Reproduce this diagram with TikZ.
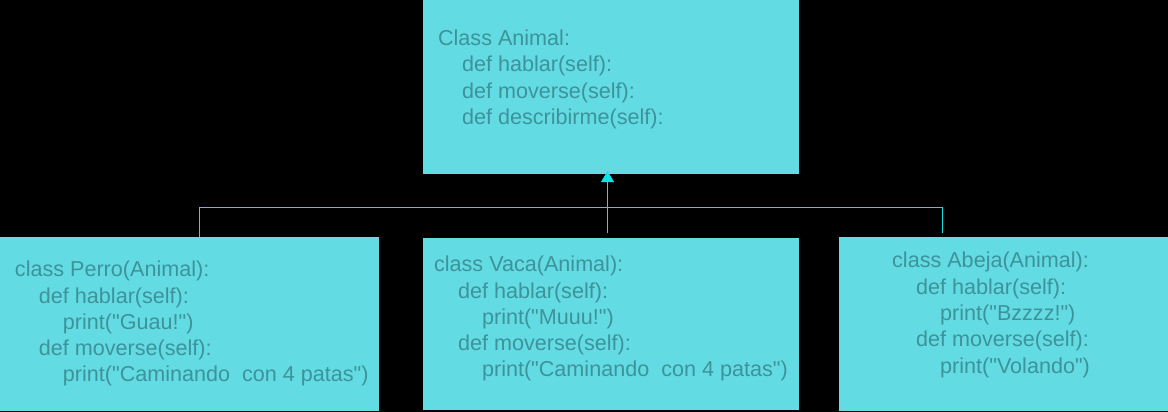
\documentclass[tikz,border=0pt]{standalone}
\usepackage{fontspec}
\setmainfont{Liberation Sans}[Ligatures=TeXOff]
\usetikzlibrary{arrows.meta, positioning}
\definecolor{boxfill}{HTML}{63DBE2}
\definecolor{linkcyan}{HTML}{14E1E6}
\definecolor{codetext}{HTML}{3D939B}
\tikzstyle{classbox}=[fill=boxfill,rectangle,inner sep=0pt]
\tikzstyle{code}=[align=left,inner sep=0pt,text=codetext,font=\fontsize{21.6}{26.3}\selectfont,execute at begin node=\strut]
\tikzstyle{link}=[draw=linkcyan,line width=1pt]
\newcommand{\indt}{\hspace*{24pt}}

\begin{document}
\begin{tikzpicture}[>={Triangle[width=13pt,length=11pt]}]
  \fill[black] (0,0) rectangle (1168pt,-412pt);
  % clases
  \node[classbox, minimum width=376pt, minimum height=174pt] (Animal) at (611pt,-87pt) {};
  \node[classbox, minimum width=376pt, minimum height=172pt, below=64pt of Animal] (Vaca) {};
  \node[classbox, minimum width=379pt, minimum height=174pt, left=44pt of Vaca] (Perro) {};
  \node[classbox, minimum width=329pt, minimum height=174pt, right=40pt of Vaca] (Abeja) {};
  % codigo
  \node[code, below right=30pt and 15pt of Animal.north west] (tAnimal)
    {Class Animal:\\ \indt def hablar(self):\\ \indt def moverse(self):\\ \indt def describirme(self):};
  \node[code, below right=24pt and 15pt of Perro.north west] (tPerro)
    {class Perro(Animal):\\ \indt def hablar(self):\\ \indt\indt print("Guau!")\\
     \indt def moverse(self):\\ \indt\indt print("Caminando\ \ con 4 patas")};
  \node[code, below right=18pt and 11pt of Vaca.north west] (tVaca)
    {class Vaca(Animal):\\ \indt def hablar(self):\\ \indt\indt print("Muuu!")\\
     \indt def moverse(self):\\ \indt\indt print("Caminando\ \ con 4 patas")};
  \node[code, below right=15pt and 53pt of Abeja.north west] (tAbeja)
    {class Abeja(Animal):\\ \indt def hablar(self):\\ \indt\indt print("Bzzzz!")\\
     \indt def moverse(self):\\ \indt\indt print("Volando")};
  % herencia
  \coordinate (bus) at ([shift={(-3.5pt,-33pt)}]Animal.south);
  \draw[link] ([xshift=10.5pt]Perro.north) |- (bus) -| ([xshift=-61.5pt,yshift=4pt]Abeja.north);
  \draw[link,->] ([xshift=-3.5pt,yshift=5pt]Vaca.north) -- ([yshift=3pt]Animal.south -| bus);
\end{tikzpicture}
\end{document}
